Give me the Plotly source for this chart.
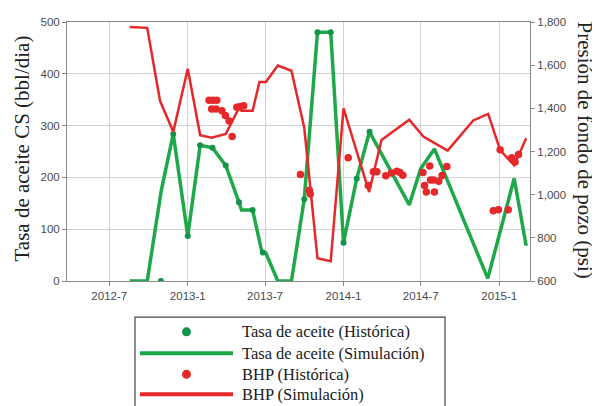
import plotly.graph_objects as go

# ---------------- data ----------------
green_sim_dates = ["2012-08-18", "2012-09-28", "2012-10-31", "2012-11-28", "2013-01-01",
                   "2013-01-30", "2013-02-28", "2013-03-31", "2013-05-01", "2013-05-07",
                   "2013-06-02", "2013-06-24", "2013-07-03", "2013-07-31", "2013-09-01",
                   "2013-10-01", "2013-11-01", "2013-12-02", "2014-01-01", "2014-02-01",
                   "2014-03-03", "2014-06-04", "2014-07-01", "2014-08-02", "2014-12-05",
                   "2015-02-05", "2015-03-05"]
green_sim = [0, 0, 175, 284, 87, 262, 257, 223, 152, 137, 137, 55, 54, 0, 0,
             158, 480, 480, 74, 198, 288, 147, 217, 255, 5, 198, 68]

green_hist_dates = ["2012-10-30", "2012-11-28", "2013-01-01", "2013-01-30", "2013-02-28",
                    "2013-03-31", "2013-05-01", "2013-06-02", "2013-06-26", "2013-10-01",
                    "2013-11-01", "2013-12-02", "2014-01-01", "2014-02-01", "2014-03-03"]
green_hist = [0, 284, 87, 262, 257, 223, 152, 137, 55, 158, 480, 480, 74, 198, 288]

red_sim_dates = ["2012-08-18", "2012-09-28", "2012-10-28", "2012-11-28", "2013-01-01",
                 "2013-01-30", "2013-02-26", "2013-03-31", "2013-05-01", "2013-05-07",
                 "2013-06-02", "2013-06-18", "2013-07-03", "2013-07-31", "2013-09-01",
                 "2013-10-01", "2013-11-01", "2013-12-02", "2014-01-01", "2014-03-02",
                 "2014-03-31", "2014-06-04", "2014-07-07", "2014-09-02", "2014-11-01",
                 "2014-12-06", "2015-01-03", "2015-02-05", "2015-03-05"]
red_sim = [1777, 1773, 1435, 1291, 1583, 1276, 1264, 1281, 1402, 1389, 1389, 1522, 1522,
           1598, 1574, 1310, 705, 692, 1400, 1012, 1253, 1347, 1269, 1204, 1344, 1374,
           1206, 1136, 1261]

red_hist_dates = ["2013-02-20", "2013-03-01", "2013-03-10", "2013-02-26", "2013-03-08",
                  "2013-03-22", "2013-03-30", "2013-04-08", "2013-04-15", "2013-04-26",
                  "2013-05-04", "2013-05-12", "2013-09-22", "2013-10-13", "2013-10-15",
                  "2014-01-12", "2014-02-28", "2014-03-12", "2014-03-20", "2014-04-10",
                  "2014-04-23", "2014-05-06", "2014-05-13", "2014-05-20", "2014-07-06",
                  "2014-07-10", "2014-07-14", "2014-07-22", "2014-07-24", "2014-07-31",
                  "2014-08-02", "2014-08-12", "2014-08-20", "2014-08-31", "2014-12-18",
                  "2014-12-30", "2015-01-22", "2015-01-03", "2015-01-30", "2015-02-07",
                  "2015-02-15"]
red_hist = [1438, 1438, 1438, 1397, 1397, 1389, 1367, 1341, 1269, 1405, 1408, 1412,
            1093, 1020, 1003, 1171, 1042, 1106, 1106, 1088, 1100, 1108, 1103, 1090,
            1103, 1042, 1012, 1133, 1068, 1068, 1012, 1062, 1089, 1130, 926, 930, 930,
            1208, 1171, 1151, 1186]

legend_labels = ["Tasa de aceite (Histórica)", "Tasa de aceite (Simulación)",
                 "BHP (Histórica)", "BHP (Simulación)"]
left_title = "Tasa de aceite CS (bbl/dia)"
right_title = "Presión de fondo de pozo (psi)"

# ---------------- style ----------------
GREEN = "#1fa84a"
GREEN_DOT = "#12934a"
RED = "#e6282b"
GRID = "#d2d2d2"
AXLINE = "#8a8a8a"
TICKFONT = dict(family="Liberation Sans, Arial, sans-serif", size=11.5, color="#4a4a4a")
SERIF = "Liberation Serif, Times New Roman, serif"

fig = go.Figure()
fig.add_trace(go.Scatter(x=green_sim_dates, y=green_sim, mode="lines",
                         line=dict(color=GREEN, width=3.5), name=legend_labels[1],
                         showlegend=False))
fig.add_trace(go.Scatter(x=green_hist_dates, y=green_hist, mode="markers",
                         marker=dict(color=GREEN_DOT, size=6), name=legend_labels[0],
                         showlegend=False))
fig.add_trace(go.Scatter(x=red_sim_dates, y=red_sim, mode="lines", yaxis="y2",
                         line=dict(color=RED, width=2.5), name=legend_labels[3],
                         showlegend=False))
fig.add_trace(go.Scatter(x=red_hist_dates, y=red_hist, mode="markers", yaxis="y2",
                         marker=dict(color=RED, size=7.5), name=legend_labels[2],
                         showlegend=False))

# page body has an 8px margin, so the figure is 8px smaller than the window
fig.update_layout(
    width=592, height=398,
    margin=dict(l=59, r=70, t=8, b=125),
    paper_bgcolor="white", plot_bgcolor="white",
    xaxis=dict(type="date", range=["2012-03-24", "2015-03-14"],
               tick0="2012-07-01", dtick="M6", tickformat="%Y-%-m",
               showgrid=True, gridcolor=GRID, gridwidth=1,
               showline=True, linecolor=AXLINE, linewidth=1, mirror=True,
               ticks="outside", ticklen=4, tickcolor=AXLINE,
               tickfont=TICKFONT, zeroline=False),
    yaxis=dict(range=[0, 500], dtick=100, showgrid=True, gridcolor=GRID,
               showline=True, linecolor=AXLINE, linewidth=1, mirror=True,
               ticks="outside", ticklen=4, tickcolor=AXLINE,
               tickfont=TICKFONT, zeroline=False),
    yaxis2=dict(range=[600, 1800], dtick=200, tickformat=",d", overlaying="y",
                side="right", showgrid=False, showline=True, linecolor=AXLINE,
                linewidth=1, ticks="outside", ticklen=4, tickcolor=AXLINE,
                tickfont=TICKFONT, zeroline=False),
    showlegend=False,
)

# axis titles
fig.add_annotation(text=left_title, xref="paper", yref="paper", x=-0.098, y=0.51,
                   textangle=-90, showarrow=False, xanchor="center", yanchor="middle",
                   font=dict(family=SERIF, size=21, color="#222"))
fig.add_annotation(text=right_title, xref="paper", yref="paper", x=1.118, y=0.505,
                   textangle=90, showarrow=False, xanchor="center", yanchor="middle",
                   font=dict(family=SERIF, size=21, color="#222"))

# manual legend (positions given in window pixels, converted to paper units)
def px_x(p):
    return (p - 67) / 463.0

def px_y(p):
    return (281 - p) / 265.0

fig.add_shape(type="rect", xref="paper", yref="paper",
              x0=px_x(135), x1=px_x(445), y0=px_y(318), y1=px_y(414),
              line=dict(color="#444", width=1.2), fillcolor="white")
rows = [333, 355, 376.5, 397]
kinds = [("dot", GREEN_DOT), ("line", GREEN), ("dot", RED), ("line", RED)]
for (kind, col), ry, lab in zip(kinds, rows, legend_labels):
    if kind == "dot":
        fig.add_shape(type="circle", xref="paper", yref="paper",
                      xsizemode="pixel", ysizemode="pixel",
                      xanchor=px_x(186.5), yanchor=px_y(ry),
                      x0=-4.5, x1=4.5, y0=-4.5, y1=4.5,
                      line=dict(width=0), fillcolor=col)
    else:
        fig.add_shape(type="line", xref="paper", yref="paper",
                      x0=px_x(140), x1=px_x(233), y0=px_y(ry), y1=px_y(ry),
                      line=dict(color=col, width=4))
    fig.add_annotation(text=lab, xref="paper", yref="paper", x=px_x(240), y=px_y(ry),
                       xanchor="left", yanchor="middle", showarrow=False,
                       font=dict(family=SERIF, size=16.5, color="#1a1a1a"))

fig.write_html("out.html")
